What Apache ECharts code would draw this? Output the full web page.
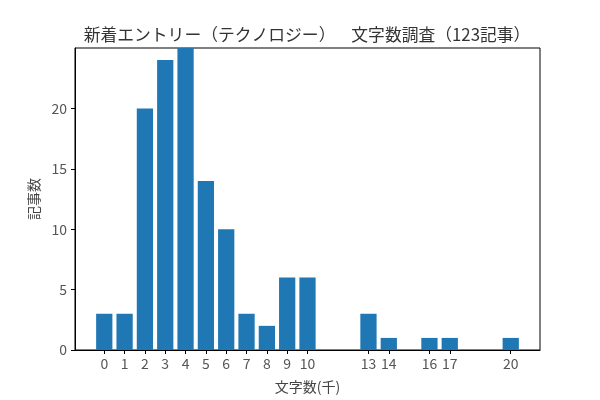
<!DOCTYPE html>
<html>
<head>
<meta charset="UTF-8">
<script src="https://cdn.jsdelivr.net/npm/echarts/dist/echarts.min.js"></script>
<style>
  html, body { margin: 0; padding: 0; background: #fff; }
  #chart { width: 600px; height: 400px; }
</style>
</head>
<body>
<div id="chart"></div>
<script type="text/javascript">
// Characters (thousands) and article counts.
const charThousands = [0, 1, 2, 3, 4, 5, 6, 7, 8, 9, 10, 13, 14, 16, 17, 20];
const articleCounts = [3, 3, 20, 24, 25, 14, 10, 3, 2, 6, 6, 3, 1, 1, 1, 1];
const yTicks = [0, 5, 10, 15, 20];

const titleText = '新着エントリー（テクノロジー）　  文字数調査（123記事）';
const font = '"Noto Sans CJK JP", "DejaVu Sans", sans-serif';

const chart = echarts.init(document.getElementById('chart'));

const option = {
    backgroundColor: '#fff',
    animation: false,
    title: {
        text: titleText,
        left: 302,
        top: 21,
        textAlign: 'center',
        textStyle: { fontFamily: font, fontSize: 16.8, fontWeight: 'normal', color: '#333' }
    },
    grid: {
        left: 75, right: 60, top: 48, bottom: 50,
        show: true, borderColor: '#000', borderWidth: 1
    },
    xAxis: {
        type: 'value',
        min: -1.44,
        max: 21.44,
        name: '文字数(千)',
        nameLocation: 'middle',
        nameGap: 30,
        nameTextStyle: { fontFamily: font, fontSize: 14, color: '#444' },
        axisLine: { show: true, onZero: false, lineStyle: { color: '#000', width: 1 } },
        axisTick: { show: true, length: 4, customValues: charThousands, lineStyle: { color: '#000' } },
        axisLabel: { customValues: charThousands, fontFamily: font, fontSize: 14, color: '#555', margin: 7 },
        splitLine: { show: false }
    },
    yAxis: {
        type: 'value',
        min: 0,
        max: 25,
        name: '記事数',
        nameLocation: 'middle',
        nameGap: 30,
        nameTextStyle: { fontFamily: font, fontSize: 14, color: '#444' },
        axisLine: { show: true, onZero: false, lineStyle: { color: '#000', width: 1 } },
        axisTick: { show: true, length: 4, customValues: yTicks, lineStyle: { color: '#000' } },
        axisLabel: { customValues: yTicks, fontFamily: font, fontSize: 14, color: '#555', margin: 8 },
        splitLine: { show: false }
    },
    series: [
        {
            type: 'custom',
            data: charThousands.map((x, i) => [x, articleCounts[i]]),
            renderItem: function (params, api) {
                const x = api.value(0);
                const y = api.value(1);
                const p0 = api.coord([x - 0.4, y]);
                const p1 = api.coord([x + 0.4, 0]);
                return {
                    type: 'rect',
                    shape: { x: p0[0], y: p0[1], width: p1[0] - p0[0], height: p1[1] - p0[1] },
                    style: { fill: '#1f77b4' }
                };
            }
        }
    ]
};

chart.setOption(option);
</script>
</body>
</html>
